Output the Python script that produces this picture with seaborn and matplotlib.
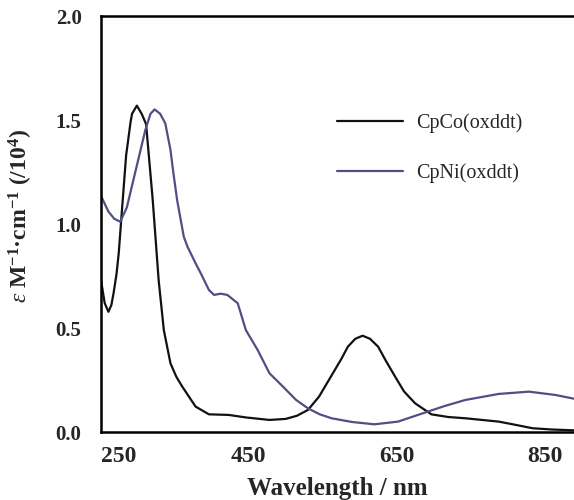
import matplotlib
matplotlib.use("Agg")
import matplotlib.pyplot as plt
import seaborn as sns
import pandas as pd

# Absorption spectra (wavelength in nm, epsilon / 1e4)
co_nm = [250, 255, 260, 264, 267, 271, 274, 278, 284, 290, 292, 298.5, 305, 311,
         320, 328, 335, 344, 352, 360, 378, 396, 423, 446, 478, 500, 515, 530,
         545, 561, 575, 584, 594, 604, 614, 625, 635, 648, 660, 675, 697, 720,
         743, 788, 810, 834, 860, 890]
co_eps = [0.73, 0.62, 0.578, 0.61, 0.667, 0.76, 0.86, 1.05, 1.33, 1.49, 1.53, 1.569, 1.53, 1.48,
          1.115, 0.73, 0.49, 0.33, 0.265, 0.218, 0.122, 0.085, 0.082, 0.07, 0.058, 0.063, 0.078, 0.106,
          0.17, 0.266, 0.35, 0.41, 0.448, 0.463, 0.448, 0.41, 0.345, 0.266, 0.195, 0.138, 0.085, 0.072,
          0.066, 0.05, 0.035, 0.018, 0.012, 0.008]

ni_nm = [250, 260, 268, 276, 285, 296, 310, 317, 322.5, 330, 337, 344, 348, 353,
         362, 367, 378, 385, 396, 403, 412, 421, 435, 446, 462, 478, 494, 514,
         530, 546, 562, 590, 620, 652, 688, 715, 743, 788, 829, 865, 890]
ni_eps = [1.135, 1.06, 1.025, 1.011, 1.08, 1.244, 1.452, 1.53, 1.551, 1.53, 1.484, 1.356, 1.244, 1.115,
          0.939, 0.891, 0.811, 0.763, 0.683, 0.659, 0.665, 0.659, 0.619, 0.49, 0.394, 0.282, 0.226, 0.154,
          0.114, 0.085, 0.066, 0.048, 0.037, 0.05, 0.093, 0.125, 0.154, 0.183, 0.194, 0.178, 0.16]

series_names = ["CpCo(oxddt)", "CpNi(oxddt)"]
series_colors = ["#111111", "#4f4f86"]

df = pd.concat([
    pd.DataFrame({"nm": co_nm, "eps": co_eps, "complex": series_names[0]}),
    pd.DataFrame({"nm": ni_nm, "eps": ni_eps, "complex": series_names[1]}),
])

sns.set_style("white")
plt.rcParams["font.family"] = ["Liberation Serif", "DejaVu Serif"]
plt.rcParams["mathtext.fontset"] = "custom"
plt.rcParams["mathtext.rm"] = "Liberation Serif:bold"
plt.rcParams["mathtext.it"] = "Liberation Serif:italic"
plt.rcParams["mathtext.bf"] = "Liberation Serif:bold"

fig = plt.figure(figsize=(5.74, 5.0), dpi=100)
ax = fig.add_axes([101 / 574, 1 - 432 / 500, 1 - 101 / 574, (432 - 16) / 500])

sns.lineplot(data=df, x="nm", y="eps", hue="complex", palette=series_colors,
             linewidth=1.6, ax=ax, sort=True, estimator=None)

ax.set_xlim(250, 890)
ax.set_ylim(0, 2.0)
ax.set_xticks([250, 450, 650, 850])
ax.set_yticks([0.0, 0.5, 1.0, 1.5, 2.0])
ax.set_yticklabels(["0.0", "0.5", "1.0", "1.5", "2.0"])

for side in ["left", "top", "bottom"]:
    ax.spines[side].set_visible(True)
    ax.spines[side].set_linewidth(1.8)
    ax.spines[side].set_color("black")
ax.spines["right"].set_visible(False)

ax.tick_params(axis="both", direction="in", length=5, width=0.8, color="#888888")
ax.tick_params(axis="y", pad=14, labelsize=15)
ax.tick_params(axis="x", pad=10, labelsize=17)
for lbl in ax.get_xticklabels() + ax.get_yticklabels():
    lbl.set_fontweight("bold")
ax.get_xticklabels()[0].set_horizontalalignment("left")

ax.set_xlabel("Wavelength / nm", fontsize=18, fontweight="bold")
ax.set_ylabel(r"$\mathit{ε}$ $\mathrm{M^{-1}{·}cm^{-1}\ (/10^{4})}$", fontsize=17)
ax.xaxis.set_label_coords(0.5, -0.108)
ax.yaxis.set_label_coords(-0.14, 0.52)

leg = ax.legend(loc="upper left", bbox_to_anchor=(337 / 574, 1 - 113 / 500),
                bbox_transform=fig.transFigure, frameon=False, fontsize=14.5,
                handlelength=3.3, handletextpad=0.65, labelspacing=1.5,
                borderpad=0, borderaxespad=0)
for line in leg.get_lines():
    line.set_linewidth(1.6)

fig.savefig("out.png", dpi=100)
